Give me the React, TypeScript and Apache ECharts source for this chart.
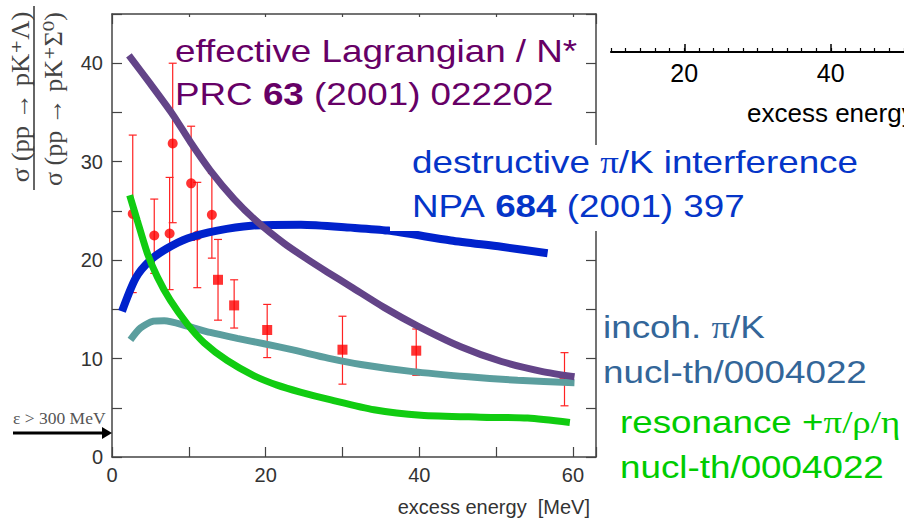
import React, { useEffect, useRef } from 'react';
import * as echarts from 'echarts';

// ---- data (x = excess energy [MeV], y = cross-section ratio) ----
const lagrangianCurve: number[][] = [
  [2.2, 40.8], [5.0, 37.9], [7.9, 34.8], [10.2, 32.0], [12.8, 29.1], [15.9, 26.2],
  [18.9, 23.9], [22.4, 21.7], [25.4, 20.1], [28.0, 18.8], [31.1, 17.3], [35.4, 15.2],
  [39.8, 13.3], [45.4, 11.2], [50.7, 9.7], [55.9, 8.7], [60.2, 8.15],
];
const interferenceCurve: number[][] = [
  [1.3, 14.8], [3.1, 18.2], [5.0, 20.0], [7.2, 21.2], [9.8, 22.2], [13.7, 23.0],
  [18.1, 23.5], [24.6, 23.6], [31.1, 23.3], [35.9, 23.0], [44.1, 22.0], [50.7, 21.35], [56.7, 20.7],
];
const incoherentCurve: number[][] = [
  [2.4, 11.9], [3.7, 13.1], [5.4, 13.8], [6.8, 13.85], [9.8, 13.3], [12.8, 12.65],
  [16.3, 12.05], [19.8, 11.5], [23.7, 10.85], [28.1, 10.05], [32.4, 9.4], [38.9, 8.7],
  [46.4, 8.15], [52.8, 7.8], [60.2, 7.55],
];
const resonanceCurve: number[][] = [
  [2.3, 26.6], [3.3, 24.0], [4.6, 20.7], [5.9, 18.3], [7.6, 15.9], [9.8, 13.5],
  [12.0, 11.6], [15.0, 9.8], [18.5, 8.25], [21.5, 7.3], [24.5, 6.6], [28.5, 5.8],
  [34.1, 4.8], [40.2, 4.25], [48.0, 4.05], [54.1, 3.95], [59.6, 3.5],
];
// [x, y, low, high]
const circlePoints: number[][] = [
  [2.7, 24.7, 16.7, 32.7], [5.5, 22.5, 18.65, 26.2], [7.5, 22.7, 17.0, 28.4],
  [7.9, 31.85, 23.8, 40.0], [10.3, 27.8, 22.0, 33.6], [11.1, 22.5, 17.2, 27.9],
  [13.0, 24.6, 20.2, 28.8],
];
const squarePoints: number[][] = [
  [13.8, 18.0, 13.9, 22.1], [15.9, 15.4, 13.1, 18.0], [20.2, 12.9, 10.1, 15.5],
  [30.0, 10.9, 7.4, 14.3], [39.6, 10.8, 8.3, 13.0], [58.9, 7.9, 5.2, 10.6],
];
const xLabelValues = [0, 20, 40, 60];
const yLabelValues = [0, 10, 20, 30, 40];
const fragmentLabelValues = [20, 40];

const SANS = "'Liberation Sans', Arial, Helvetica, sans-serif";
const SERIF = "'Liberation Serif', 'Times New Roman', 'DejaVu Serif', serif";

function annot(x: number, y: number, text: string, color: string) {
  return {
    type: 'text', x, y, z: 60, scaleX: 1.15,
    style: {
      x: 0, y: 0, text, fill: color, fontSize: 32, fontFamily: SANS,
      align: 'left', verticalAlign: 'middle',
      rich: {
        b: { fontSize: 32, fontFamily: SANS, fontWeight: 'bold', fill: color },
        g: { fontSize: 32, fontFamily: SERIF, fill: color },
      },
    },
  };
}

export default function App() {
  const ref = useRef<HTMLDivElement>(null);
  useEffect(() => {
    if (!ref.current) return;
    const chart = echarts.init(ref.current, undefined, { renderer: 'svg' });
    const axisColor = '#444';
    const errData = circlePoints.concat(squarePoints).map((p) => [p[0], p[2], p[3]]);
    const lineSeries = (name: string, data: number[][], color: string, width: number, z: number) => ({
      name, type: 'line', data, xAxisIndex: 0, yAxisIndex: 0, showSymbol: false, symbol: 'none',
      smooth: 0.25, z,
      lineStyle: { color, width }, silent: true,
    });
    const option: any = {
      animation: false,
      backgroundColor: '#ffffff',
      grid: [
        { left: 112, top: 14, width: 484, height: 443, show: false },
        { left: 611, top: 20, width: 298, height: 32, show: false },
      ],
      xAxis: [
        {
          gridIndex: 0, type: 'value', min: 0, max: 63, interval: 10, position: 'bottom',
          axisLine: { show: true, onZero: false, lineStyle: { color: axisColor, width: 1.5 } },
          axisTick: { show: true, inside: true, length: 10, lineStyle: { color: axisColor, width: 1.2 } },
          axisLabel: {
            formatter: (v: number) => (xLabelValues.includes(v) ? String(v) : ''),
            margin: 8, fontSize: 20, color: '#333', fontFamily: SANS,
          },
          splitLine: { show: false },
        },
        {
          gridIndex: 0, type: 'value', min: 0, max: 63, interval: 10, position: 'top',
          axisLine: { show: true, onZero: false, lineStyle: { color: axisColor, width: 1.5 } },
          axisTick: { show: true, inside: true, length: 10, lineStyle: { color: axisColor, width: 1.2 } },
          axisLabel: { show: false }, splitLine: { show: false },
        },
        {
          gridIndex: 1, type: 'value', min: 10, max: 50, interval: 2, position: 'bottom',
          axisLine: { show: true, onZero: false, lineStyle: { color: '#000', width: 2.2 } },
          axisTick: { show: true, inside: true, length: 4, lineStyle: { color: '#000', width: 1.2 } },
          axisLabel: { show: false }, splitLine: { show: false },
        },
        {
          gridIndex: 1, type: 'value', min: 10, max: 50, interval: 10, position: 'bottom',
          axisLine: { show: false, onZero: false },
          axisTick: { show: true, inside: true, length: 8, customValues: fragmentLabelValues, lineStyle: { color: '#000', width: 1.5 } },
          axisLabel: { customValues: fragmentLabelValues, margin: 8, fontSize: 25, color: '#000', fontFamily: SANS },
          splitLine: { show: false },
        },
      ],
      yAxis: [
        {
          gridIndex: 0, type: 'value', min: 0, max: 45, interval: 5, position: 'left',
          axisLine: { show: true, onZero: false, lineStyle: { color: axisColor, width: 1.5 } },
          axisTick: { show: true, inside: true, length: 10, lineStyle: { color: axisColor, width: 1.2 } },
          axisLabel: {
            formatter: (v: number) => (yLabelValues.includes(v) ? String(v) : ''),
            margin: 9, fontSize: 20, color: '#333', fontFamily: SANS,
          },
          splitLine: { show: false },
        },
        {
          gridIndex: 0, type: 'value', min: 0, max: 45, interval: 5, position: 'right',
          axisLine: { show: true, onZero: false, lineStyle: { color: axisColor, width: 1.5 } },
          axisTick: { show: true, inside: true, length: 10, lineStyle: { color: axisColor, width: 1.2 } },
          axisLabel: { show: false }, splitLine: { show: false },
        },
        { gridIndex: 1, type: 'value', min: 0, max: 1, show: false },
      ],
      series: [
        {
          type: 'custom', name: 'errors', xAxisIndex: 0, yAxisIndex: 0, z: 2, silent: true,
          data: errData,
          encode: { x: 0, y: [1, 2] },
          renderItem: (params: any, api: any) => {
            const x = api.value(0);
            const top = api.coord([x, api.value(2)]);
            const bot = api.coord([x, api.value(1)]);
            const st = { stroke: '#f22', lineWidth: 1.2 };
            return {
              type: 'group',
              children: [
                { type: 'line', shape: { x1: top[0], y1: top[1], x2: bot[0], y2: bot[1] }, style: st },
                { type: 'line', shape: { x1: top[0] - 4, y1: top[1], x2: top[0] + 4, y2: top[1] }, style: st },
                { type: 'line', shape: { x1: bot[0] - 4, y1: bot[1], x2: bot[0] + 4, y2: bot[1] }, style: st },
              ],
            };
          },
        },
        {
          type: 'scatter', name: 'data (circles)', xAxisIndex: 0, yAxisIndex: 0, z: 3, silent: true,
          symbol: 'circle', symbolSize: 10, itemStyle: { color: '#ff0000' },
          data: circlePoints.map((p) => [p[0], p[1]]),
        },
        {
          type: 'scatter', name: 'data (squares)', xAxisIndex: 0, yAxisIndex: 0, z: 3, silent: true,
          symbol: 'rect', symbolSize: 10, itemStyle: { color: '#ff0000' },
          data: squarePoints.map((p) => [p[0], p[1]]),
        },
        lineSeries('incoh. pi/K', incoherentCurve, '#5b9e9e', 7, 4),
        lineSeries('destructive pi/K', interferenceCurve, '#0022cc', 8, 5),
        lineSeries('resonance', resonanceCurve, '#11cc11', 7, 6),
        lineSeries('effective Lagrangian', lagrangianCurve, '#634488', 7, 7),
      ],
      graphic: [
        // white backgrounds behind annotation boxes
        { type: 'rect', z: 50, silent: true, shape: { x: 178, y: 17, width: 405, height: 95 }, style: { fill: '#fff' } },
        { type: 'rect', z: 50, silent: true, shape: { x: 390, y: 145, width: 514, height: 86 }, style: { fill: '#fff' } },
        annot(175, 51, 'effective Lagrangian / N*', '#660066'),
        annot(175, 94, 'PRC {b|63} (2001) 022202', '#660066'),
        annot(412, 162, 'destructive {g|π}/K interference', '#0535c8'),
        annot(412, 206, 'NPA {b|684} (2001) 397', '#0535c8'),
        annot(603, 327, 'incoh. {g|π}/K', '#336699'),
        annot(603, 372, 'nucl-th/0004022', '#336699'),
        annot(620, 422, 'resonance +{g|π/ρ/η}', '#00cc00'),
        annot(620, 467, 'nucl-th/0004022', '#00cc00'),
        // y-axis title as a fraction
        {
          type: 'text', x: 21, y: 97, rotation: Math.PI / 2, scaleX: 1.02, z: 60,
          style: { text: 'σ (pp → pK⁺Λ)', fontSize: 26, fontFamily: SERIF, fill: '#444', align: 'center', verticalAlign: 'middle' },
        },
        {
          type: 'text', x: 53, y: 99, rotation: Math.PI / 2, scaleX: 1.0, z: 60,
          style: { text: 'σ (pp → pK⁺Σ⁰)', fontSize: 26, fontFamily: SERIF, fill: '#444', align: 'center', verticalAlign: 'middle' },
        },
        { type: 'line', z: 60, shape: { x1: 34, y1: 6, x2: 34, y2: 190 }, style: { stroke: '#333', lineWidth: 1.5 } },
        // threshold arrow
        {
          type: 'text', x: 13, y: 418, z: 60,
          style: { text: 'ε > 300 MeV', fontSize: 17.5, fontFamily: SERIF, fill: '#555', align: 'left', verticalAlign: 'middle' },
        },
        { type: 'line', z: 60, shape: { x1: 13, y1: 433, x2: 104, y2: 433 }, style: { stroke: '#000', lineWidth: 3 } },
        { type: 'polygon', z: 60, shape: { points: [[102, 427], [112, 433], [102, 439]] }, style: { fill: '#000' } },
        // axis names
        {
          type: 'text', x: 590, y: 507, z: 60,
          style: { text: 'excess energy  [MeV]', fontSize: 20, fontFamily: SANS, fill: '#333', align: 'right', verticalAlign: 'middle' },
        },
        {
          type: 'text', x: 747, y: 113, z: 60,
          style: { text: 'excess energy  [MeV]', fontSize: 26, fontFamily: SANS, fill: '#000', align: 'left', verticalAlign: 'middle' },
        },
      ],
    };
    chart.setOption(option);
    return () => chart.dispose();
  }, []);
  return <div ref={ref} style={{ position: 'fixed', left: 0, top: 0, width: 904, height: 519 }} />;
}
